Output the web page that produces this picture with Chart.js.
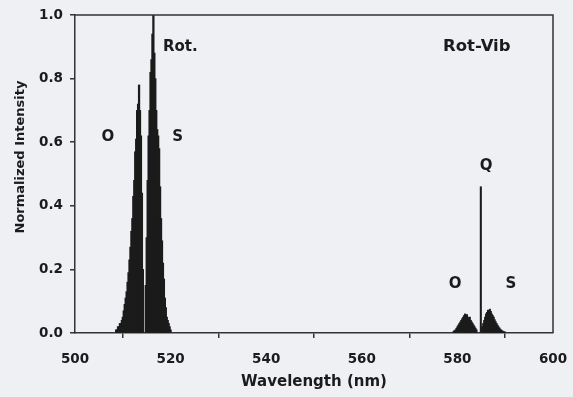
<!DOCTYPE html>
<html>
<head>
<meta charset="utf-8">
<script src="https://cdn.jsdelivr.net/npm/chart.js@4.4.0/dist/chart.umd.min.js"></script>
<style>
  html, body { margin: 0; padding: 0; background: #eef0f4; }
  #wrap { width: 573px; height: 397px; }
</style>
</head>
<body>
<div id="wrap"><canvas id="spec" width="573" height="397"></canvas></div>
<script>
// rotational Raman lines (O branch + S branch around the 514.5 nm laser line)
const rotWavelengths = [
  508.6, 508.8, 509.0, 509.2, 509.4, 509.6, 509.8, 510.0, 510.2, 510.4,
  510.6, 510.8, 511.0, 511.2, 511.4, 511.6, 511.8, 512.0, 512.2, 512.4,
  512.6, 512.8, 513.0, 513.2, 513.4, 513.6, 513.8, 514.0, 514.2,
  514.8, 515.0, 515.2, 515.4, 515.6, 515.8, 516.0, 516.2, 516.4, 516.6,
  516.8, 517.0, 517.2, 517.4, 517.6, 517.8, 518.0, 518.2, 518.4, 518.6,
  518.8, 519.0, 519.2, 519.4, 519.6, 519.8, 520.0
];
const rotIntensity = [
  0.01, 0.01, 0.02, 0.02, 0.03, 0.03, 0.04, 0.05, 0.07, 0.09,
  0.11, 0.13, 0.16, 0.19, 0.23, 0.27, 0.32, 0.36, 0.43, 0.48,
  0.57, 0.61, 0.70, 0.72, 0.78, 0.70, 0.62, 0.44, 0.20,
  0.15, 0.30, 0.48, 0.62, 0.70, 0.82, 0.86, 0.94, 1.00, 0.88,
  0.80, 0.70, 0.64, 0.62, 0.58, 0.46, 0.36, 0.29, 0.22, 0.17,
  0.11, 0.08, 0.05, 0.04, 0.03, 0.02, 0.01
];

// rotational-vibrational lines (O, Q, S)
const vibWavelengths = [
  579.2, 579.4, 579.6, 579.8, 580.0, 580.2, 580.4, 580.6, 580.8, 581.0,
  581.2, 581.4, 581.6, 581.8, 582.0, 582.2, 582.4, 582.6, 582.8, 583.0,
  583.2, 583.4, 583.6, 583.8, 584.0,
  584.9,
  585.2, 585.4, 585.6, 585.8, 586.0, 586.2, 586.4, 586.6, 586.8, 587.0,
  587.2, 587.4, 587.6, 587.8, 588.0, 588.2, 588.4, 588.6, 588.8, 589.0,
  589.2, 589.4, 589.6, 589.8, 590.0
];
const vibIntensity = [
  0.005, 0.008, 0.010, 0.015, 0.020, 0.025, 0.030, 0.035, 0.040, 0.045,
  0.050, 0.055, 0.060, 0.052, 0.058, 0.050, 0.045, 0.050, 0.040, 0.035,
  0.030, 0.025, 0.020, 0.015, 0.010,
  0.46,
  0.020, 0.030, 0.040, 0.050, 0.060, 0.065, 0.072, 0.065, 0.075, 0.068,
  0.060, 0.055, 0.050, 0.042, 0.036, 0.030, 0.025, 0.020, 0.016, 0.012,
  0.009, 0.007, 0.005, 0.004, 0.003
];

const xTicks = [500, 520, 540, 560, 580, 600];
const yTicks = [0.0, 0.2, 0.4, 0.6, 0.8, 1.0];

// branch labels, placed in data coordinates
const labelTexts = ["Rot.", "O", "S", "Rot-Vib", "Q", "O", "S"];
const labelX = [518.4, 506.9, 521.5, 577.0, 586.0, 579.5, 591.2];
const labelY = [0.90, 0.616, 0.616, 0.90, 0.525, 0.154, 0.154];
const labelAlign = ["left", "center", "center", "left", "center", "center", "center"];
const labelSize = [15, 15, 15, 16.5, 15, 15, 15];

const INK = "#1b1b1b";
const FONT = "'DejaVu Sans', sans-serif";

const toPoints = (xs, ys) => xs.map((x, i) => ({ x: x, y: ys[i] }));

const bgPlugin = {
  id: "bg",
  beforeDraw(chart) {
    const c = chart.ctx;
    c.save();
    c.fillStyle = "#eef0f4";
    c.fillRect(0, 0, chart.width, chart.height);
    c.restore();
  }
};

// top and right edges of the plot box, y title and branch labels
const framePlugin = {
  id: "frame",
  afterDraw(chart) {
    const c = chart.ctx;
    const a = chart.chartArea;
    c.save();
    c.strokeStyle = "#333";
    c.lineWidth = 1.5;
    c.beginPath();
    c.moveTo(a.left, a.top);
    c.lineTo(a.right, a.top);
    c.lineTo(a.right, a.bottom);
    c.stroke();

    c.fillStyle = INK;
    c.textBaseline = "middle";

    c.save();
    c.translate(21, 157);
    c.rotate(-Math.PI / 2);
    c.textAlign = "center";
    c.font = "bold 13px " + FONT;
    c.fillText("Normalized Intensity", 0, 0);
    c.restore();

    labelTexts.forEach((t, i) => {
      c.textAlign = labelAlign[i];
      c.font = "bold " + labelSize[i] + "px " + FONT;
      const px = chart.scales.x.getPixelForValue(labelX[i]);
      const py = chart.scales.y.getPixelForValue(labelY[i]);
      c.fillText(t, px, py);
    });
    c.restore();
  }
};

new Chart(document.getElementById("spec"), {
  type: "bar",
  data: {
    datasets: [
      {
        label: "Rot.",
        data: toPoints(rotWavelengths, rotIntensity),
        backgroundColor: INK,
        borderWidth: 0,
        barThickness: 1.6
      },
      {
        label: "Rot-Vib",
        data: toPoints(vibWavelengths, vibIntensity),
        backgroundColor: INK,
        borderWidth: 0,
        barThickness: 1.4
      }
    ]
  },
  options: {
    responsive: false,
    animation: false,
    grouped: false,
    layout: { padding: { left: 6, right: 20, top: 15, bottom: 6 } },
    plugins: {
      legend: { display: false },
      tooltip: { enabled: false }
    },
    scales: {
      x: {
        type: "linear",
        min: 500,
        max: 600,
        offset: false,
        afterBuildTicks: s => { s.ticks = xTicks.map(v => ({ value: v })); },
        afterFit: s => {
          s.height = 397 - 333 - 6;
          s.paddingLeft = 0;
          s.paddingRight = 0;
        },
        grid: { drawOnChartArea: false, drawTicks: true, tickLength: 5, color: "#333", lineWidth: 1.5 },
        border: { display: true, color: "#333", width: 1.5 },
        ticks: {
          color: INK,
          padding: 13,
          maxRotation: 0,
          font: { family: FONT, size: 13.5, weight: "bold" },
          callback: v => String(v)
        },
        title: {
          display: true,
          text: "Wavelength (nm)",
          color: INK,
          padding: { top: 2, bottom: 0 },
          font: { family: FONT, size: 15, weight: "bold" }
        }
      },
      y: {
        min: 0,
        max: 1,
        afterBuildTicks: s => { s.ticks = yTicks.map(v => ({ value: v })); },
        afterFit: s => {
          s.width = 75 - 6;
          s.paddingTop = 0;
          s.paddingBottom = 0;
        },
        grid: { drawOnChartArea: false, drawTicks: true, tickLength: 5, color: "#333", lineWidth: 1.5 },
        border: { display: true, color: "#333", width: 1.5 },
        ticks: {
          color: INK,
          padding: 7,
          font: { family: FONT, size: 13.5, weight: "bold" },
          callback: v => v.toFixed(1)
        }
      }
    }
  },
  plugins: [bgPlugin, framePlugin]
});
</script>
</body>
</html>
